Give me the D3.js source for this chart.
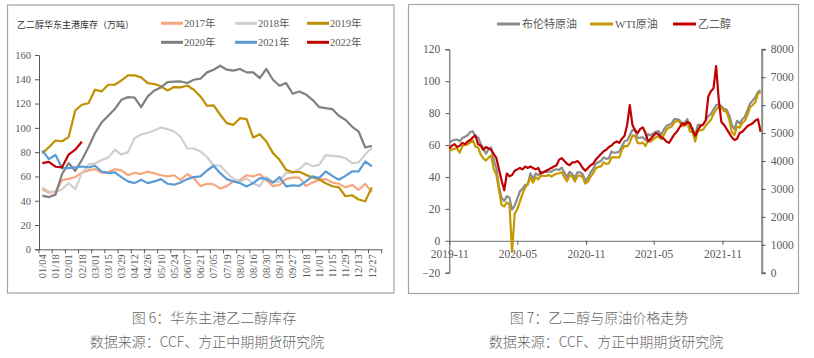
<!DOCTYPE html>
<html><head><meta charset="utf-8">
<script src="https://cdn.jsdelivr.net/npm/d3@7/dist/d3.min.js"></script>
<style>body{margin:0;background:#fff}svg{display:block}</style>
</head><body><svg id="c" width="814" height="358"></svg>
<script>
// ---------- Left chart data: 华东主港乙二醇库存（万吨） ----------
const categories = ["01/04","01/11","01/18","01/25","02/01","02/08","02/18","02/22","03/01","03/08","03/15","03/22","03/29","04/05","04/12","04/19","04/26","05/03","05/10","05/17","05/24","05/31","06/07","06/14","06/21","06/28","07/05","07/12","07/19","07/26","08/02","08/09","08/16","08/23","08/30","09/06","09/13","09/20","09/27","10/11","10/18","10/25","11/01","11/08","11/15","11/22","11/29","12/06","12/13","12/20","12/27","01/03"];
const tickLabels = ["01/04","01/18","02/01","02/18","03/01","03/15","03/29","04/12","04/26","05/10","05/24","06/07","06/21","07/05","07/19","08/02","08/16","08/30","09/13","09/27","10/18","11/01","11/15","11/29","12/13","12/27"];
const inventoryTicks = [0,20,40,60,80,100,120,140,160];
const years = ["2017年","2018年","2019年","2020年","2021年","2022年"];
const inv2017 = [49.5,46.5,47.5,57,58,59.5,63,65,66,63,63.5,66,65,61,63,62,64,62.5,61,60,61,57,62,58.5,52,54,53.5,50,52,56,57,61,60,62,57,52,53,58,59,59,52,55,57,58,55,54,51,53,49,54,47];
const inv2018 = [51,47.5,47,49.5,54.5,49.5,62.5,70,70.5,73.5,75.5,82,78,80,91.5,94.5,96,97.8,100.3,99,97,92.5,83,83,80.5,76,69,69,63,58,55.5,58.5,54,52,60,55,56,63,63,66,71,68.5,69.5,77.5,77,76.5,75,71,71.5,78,83.5];
const inv2019 = [79,84,89.6,89,92.4,114.3,119,120.3,131.4,130,135.5,135.5,139,143.2,143.2,141.6,136.9,136.1,134.2,130.8,133.6,133.3,134.9,131.4,125.9,118.2,118.5,110.8,103.9,102.5,108,107.2,92,94.8,88.8,79.2,73.7,65.4,63.5,63.8,61.3,59.1,57.7,54.4,51.9,51,43.7,44.5,41,39.6,51];
const inv2020 = [44.2,43,45,62,71,64.5,73.6,84,95.7,104.4,110,115.5,123.1,125.3,125,117.1,125.9,130.8,133.3,137.7,138,138.2,136.9,139.6,140.5,145.7,147.9,151.2,147.9,147.1,148.5,145.7,145.7,141,148.5,139.6,134.7,136.9,128.1,130,127.5,123.1,117.1,116.2,115.5,110,106.6,101.1,97,83.8,85.2];
const inv2021 = [81.4,74.2,77.8,66.8,66.8,67.4,68.2,67.4,68.8,64.1,62.7,63.3,59.5,55.9,54.5,57.3,54.5,55.9,57.8,54,53.2,55,57.8,59.5,60,64.9,68.8,62.7,57.8,55.9,54.5,51.8,54.5,58.6,58,55,59.5,51.8,52.6,52.3,55.9,60,58.6,64.1,60.5,57.3,60.5,64.1,64.1,72.3,68.2];
const inv2022 = [71,72,68,67.5,78,82,88.5];

// ---------- Right chart data: 乙二醇与原油价格走势 (weekly, from 2019-11-01) ----------
const priceNames = ["布伦特原油","WTI原油","乙二醇"];
const priceTickDates = ["2019-11-01","2020-05-01","2020-11-01","2021-05-01","2021-11-01"];
const leftPriceTicks = [-20,0,20,40,60,80,100,120];
const rightPriceTicks = [0,1000,2000,3000,4000,5000,6000,7000,8000];
const brent = [61.7,62.5,63.3,63.4,62.4,64.4,65.2,66.1,68.2,
  68.6,65.0,64.9,60.7,58.2, 54.5,57.3,58.5,50.5, 45.3,33.9,27.0,24.9, 28,27,19.5,22.0,
  26.4,31.0,32.5,35.1,35.3, 42.3,38.7,42.2,41.0, 42.8,43.2,43.1,43.3,43.3, 44.4,44.8,44.4,45.8,
  42.7,39.8,43.2,41.9, 39.3,42.9,42.9,41.8,37.5, 39.5,42.8,45.0,48.2, 49.3,50.0,52.3,51.3,
  51.8,56.0,55.1,55.4,55.9, 59.3,62.4,62.9,66.1, 69.4,69.2,64.5,64.6, 64.9,63.0,66.8,66.1,67.3,
  68.3,68.7,66.4,69.6, 71.9,72.7,73.5,76.2, 76.2,75.6,73.6,74.1,76.3, 70.7,70.6,65.2,72.7,
  72.6,72.9,75.3,78.1, 79.3,82.4,84.9,85.5,84.4, 82.7,82.2,78.9,72.7, 69.9,75.2,73.5,76.1,77.8,
  81.8,86.1,87.9,90.0, 93.3,94.4];
const wti = [56.2,57.2,57.7,57.8,55.2,59.2,60.1,60.4,61.7,
  63.0,59.0,58.5,54.2,51.6, 50.3,52.1,53.4,44.8, 41.3,31.7,22.4,21.5, 24,22.8,-7,17,
  19.8,24.7,29.4,33.3,35.5, 39.6,36.3,39.8,38.5, 40.7,40.6,40.6,41.3,40.3, 41.2,42.0,42.3,43.0,
  39.8,37.3,41.1,40.3, 37.1,40.6,40.9,39.9,35.8, 37.1,40.1,42.4,45.5, 46.3,46.6,49.1,48.2,
  48.5,52.2,52.4,52.3,52.2, 56.9,59.5,59.2,61.5, 66.1,65.6,61.4,61.0, 61.5,59.3,63.1,62.1,63.6,
  64.9,65.4,63.6,66.3, 69.6,70.9,71.6,74.1, 75.2,74.6,71.8,72.1,74.0, 68.3,68.4,62.3,68.7,
  69.3,69.7,72.0,74.0, 75.9,79.4,82.3,83.8,83.6, 81.3,80.8,76.1,68.2, 66.3,71.7,70.9,73.8,75.2,
  78.9,83.8,85.1,86.8, 92.3,93.1];
const meg = [4450,4550,4600,4500,4550,4650,4600,4700,4750,
  4850,4920,4600,4550,4400, 4500,4450,4400,4250, 4100,3700,3300,2950, 3550,3450,3500,3650,
  3700,3750,3700,3800,3750, 3800,3750,3700,3750, 3550,3600,3650,3700,3750, 3800,3850,4050,4100,
  4000,3900,3850,3950, 3950,4000,3900,3750,3650, 3750,3850,3900,4050, 4150,4250,4350,4400,
  4500,4550,4650,4700,4650, 4800,4900,5300,6000, 5300,5100,5000,5150, 5200,5000,4700,4800,4900,
  5000,4950,4850,4800, 4700,4650,4800,4950, 5050,5200,5350,5300,5400, 5350,5100,4900,5100,
  5250,5300,5450,6300, 6500,6600,7400,6200,5400, 5300,5150,5000,4850, 4750,4800,5000,5050,5150,
  5250,5300,5350,5450, 5500,5050];

// ---------- Drawing ----------
const svg = d3.select("#c");
const serif = "'Liberation Serif','Noto Sans CJK SC',serif";
const cjk = "'Noto Sans CJK SC','Noto Sans',sans-serif";
const txtCol = "#595959";

// frames
svg.append("rect").attr("x",7.5).attr("y",5).attr("width",386.5).attr("height",288)
  .attr("fill","none").attr("stroke","#a6a6a6").attr("stroke-width",1.2);
svg.append("rect").attr("x",408.5).attr("y",4.5).attr("width",390).attr("height",289)
  .attr("fill","none").attr("stroke","#a6a6a6").attr("stroke-width",1.2);

// ===== Left chart =====
const L = svg.append("g");
const x = d3.scaleBand().domain(categories).range([39, 381.7]).padding(0);
const y = d3.scaleLinear().domain([0,160]).range([249.3, 55]);
const yAx = L.append("g").attr("transform","translate(39,0)")
  .call(d3.axisLeft(y).tickValues(inventoryTicks).tickSize(4).tickPadding(4));
yAx.select(".domain").attr("stroke","#595959");
yAx.selectAll(".tick line").attr("stroke","#595959");
yAx.selectAll("text").attr("font-family",serif).attr("font-size",10.5).attr("fill",txtCol);

const xAx = L.append("g").attr("transform","translate(0,249.3)")
  .call(d3.axisBottom(x).tickValues(tickLabels).tickSize(0).tickSizeOuter(0));
xAx.select(".domain").attr("stroke","#595959");
xAx.selectAll("text").attr("transform","rotate(-90)").attr("text-anchor","end")
  .attr("x",-5).attr("y",0).attr("dy","0.35em")
  .attr("font-family",serif).attr("font-size",10.5).attr("fill",txtCol);
// tick marks at band boundaries between label pairs
const bounds = tickLabels.map(d => x(d)).concat([x.range()[1]]);
L.append("g").selectAll("line").data(bounds).join("line")
  .attr("x1",d=>d).attr("x2",d=>d).attr("y1",y(0)).attr("y2",y(0)+4)
  .attr("stroke","#595959");

const invSeries = [
  {name:years[0], values:inv2017, color:"#F5A77F"},
  {name:years[1], values:inv2018, color:"#CFCFCF"},
  {name:years[2], values:inv2019, color:"#BF9000"},
  {name:years[3], values:inv2020, color:"#808080"},
  {name:years[4], values:inv2021, color:"#5B9BD5"},
  {name:years[5], values:inv2022, color:"#C00000"}
];
const line = d3.line().x((d,i)=>x(categories[i])+x.bandwidth()/2).y(d=>y(d));
L.append("g").selectAll("path").data(invSeries).join("path")
  .attr("d",d=>line(d.values)).attr("fill","none").attr("stroke",d=>d.color)
  .attr("stroke-width",2.2).attr("stroke-linejoin","round");

// title
L.append("text").attr("x",17).attr("y",27.5).text("乙二醇华东主港库存（万吨）")
  .attr("font-family",cjk).attr("font-size",9).attr("fill","#333");
// legend
const legCols = [161,235,307], legRows = [23.3,42.3];
const lg = L.append("g").selectAll("g").data(invSeries).join("g")
  .attr("transform",(d,i)=>`translate(${legCols[i%3]},${legRows[Math.floor(i/3)]})`);
lg.append("line").attr("x1",0).attr("x2",22).attr("y1",0).attr("y2",0)
  .attr("stroke",d=>d.color).attr("stroke-width",3);
lg.append("text").attr("x",23).attr("y",0).attr("dy","0.35em").text(d=>d.name)
  .attr("font-family",serif).attr("font-size",10.5).attr("fill",txtCol);

// ===== Right chart =====
const R = svg.append("g");
const weeks = d3.timeFriday.range(new Date(2019,10,1), new Date(2022,1,12));
const xT = d3.scaleTime().domain([new Date(2019,10,1), new Date(2022,1,14)]).range([449.3, 761.7]);
const yL = d3.scaleLinear().domain([-20,120]).range([272.7, 49.3]);
const yR = d3.scaleLinear().domain([0,8000]).range([272.7, 49.3]);

const lAx = R.append("g").attr("transform","translate(449.3,0)")
  .call(d3.axisLeft(yL).tickValues(leftPriceTicks).tickFormat(d3.format("d")).tickSize(4).tickPadding(5));
lAx.select(".domain").attr("stroke","#595959");
lAx.selectAll(".tick line").attr("stroke","#595959");
lAx.selectAll("text").attr("font-family",serif).attr("font-size",11.5).attr("fill",txtCol);

const rAx = R.append("g").attr("transform","translate(761.7,0)")
  .call(d3.axisRight(yR).tickValues(rightPriceTicks).tickFormat(d3.format("d")).tickSize(4).tickPadding(5));
rAx.select(".domain").attr("stroke","#8c8c8c").attr("stroke-width",2);
rAx.selectAll(".tick line").attr("stroke","#595959");
rAx.selectAll("text").attr("font-family",serif).attr("font-size",11.5).attr("fill",txtCol);

const bAx = R.append("g").attr("transform",`translate(0,${yL(0)})`)
  .call(d3.axisBottom(xT).tickValues(priceTickDates.map(d=>d3.timeParse("%Y-%m-%d")(d)))
    .tickFormat(d3.timeFormat("%Y-%m")).tickSize(4).tickSizeOuter(0).tickPadding(5));
bAx.select(".domain").attr("stroke","#8c8c8c").attr("stroke-width",1.2);
bAx.selectAll(".tick line").attr("stroke","#595959");
bAx.selectAll("text").attr("font-family",serif).attr("font-size",11.5).attr("fill",txtCol);

const priceSeries = [
  {name:priceNames[0], values:brent, color:"#8C8C8C", s:yL},
  {name:priceNames[1], values:wti, color:"#C59A00", s:yL},
  {name:priceNames[2], values:meg, color:"#C00000", s:yR}
];
R.append("g").selectAll("path").data(priceSeries).join("path")
  .attr("d",d=>d3.line().x((v,i)=>xT(weeks[i])).y(v=>d.s(v))(d.values))
  .attr("fill","none").attr("stroke",d=>d.color).attr("stroke-width",2.2)
  .attr("stroke-linejoin","round");

const rLegX = [497,590,673];
const rl = R.append("g").selectAll("g").data(priceSeries).join("g")
  .attr("transform",(d,i)=>`translate(${rLegX[i]},24)`);
rl.append("line").attr("x1",0).attr("x2",23).attr("stroke",d=>d.color).attr("stroke-width",3);
rl.append("text").attr("x",25).attr("dy","0.35em").text(d=>d.name)
  .attr("font-family",serif).attr("font-size",11).attr("fill",txtCol);

// ===== Captions =====
const caps = [
  {t:"图 6：华东主港乙二醇库存", x:214, y:323},
  {t:"数据来源：CCF、方正中期期货研究院", x:207, y:347},
  {t:"图 7：乙二醇与原油价格走势", x:599, y:323},
  {t:"数据来源：CCF、方正中期期货研究院", x:606, y:347}
];
svg.append("g").selectAll("text").data(caps).join("text")
  .attr("x",d=>d.x).attr("y",d=>d.y).attr("text-anchor","middle").text(d=>d.t)
  .attr("font-family",cjk).attr("font-size",14).attr("font-weight",300).attr("fill","#666");
</script></body></html>
